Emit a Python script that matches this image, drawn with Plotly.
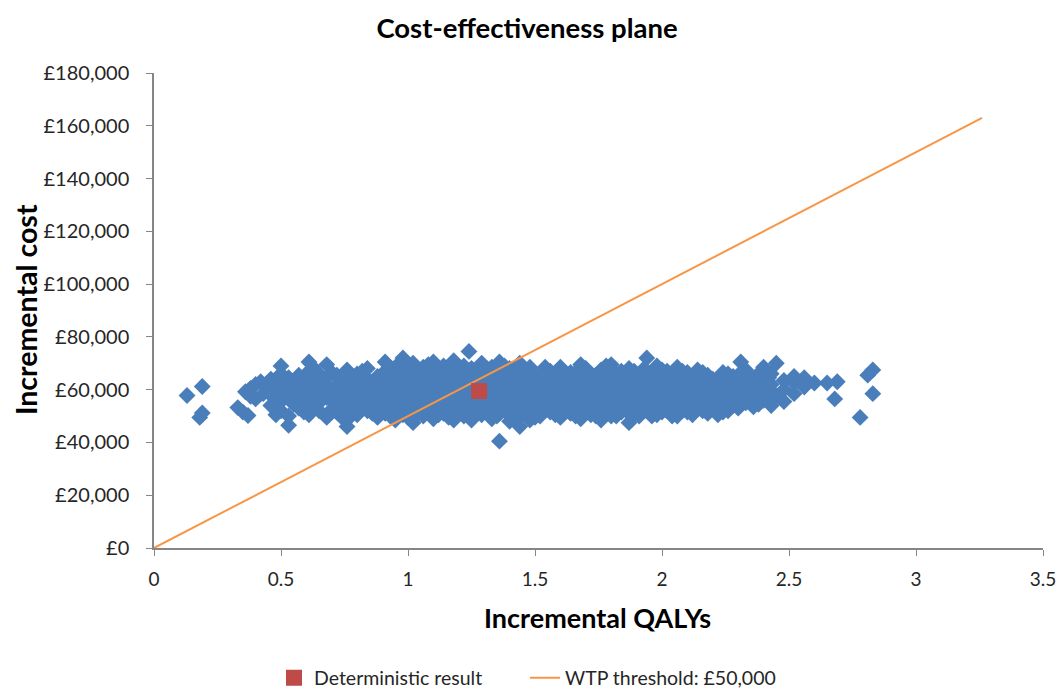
import plotly.graph_objects as go

# Simulated (PSA) results: incremental QALYs and incremental cost (GBP)
sim_qaly = [
    0.13, 0.19, 0.18, 0.19, 0.33, 0.35, 0.37, 0.36, 0.38, 0.40,
    0.42, 0.44, 0.40, 0.43, 0.38, 0.46, 0.46, 0.46, 0.46, 0.50,
    0.50, 0.50, 0.50, 0.50, 0.50, 0.53, 0.53, 0.53, 0.53, 0.53,
    0.57, 0.57, 0.57, 0.57, 0.57, 0.61, 0.61, 0.61, 0.61, 0.61,
    0.61, 0.65, 0.65, 0.65, 0.65, 0.65, 0.68, 0.68, 0.68, 0.68,
    0.68, 0.72, 0.72, 0.72, 0.72, 0.72, 0.76, 0.76, 0.76, 0.76,
    0.76, 0.76, 0.76, 0.80, 0.80, 0.80, 0.80, 0.80, 0.84, 0.84,
    0.84, 0.84, 0.84, 0.88, 0.88, 0.88, 0.88, 0.88, 0.91, 0.91,
    0.91, 0.91, 0.91, 0.91, 0.95, 0.95, 0.95, 0.95, 0.95, 0.95,
    0.98, 0.98, 0.98, 0.98, 0.98, 0.98, 1.02, 1.02, 1.02, 1.02,
    1.02, 1.02, 1.02, 1.06, 1.06, 1.06, 1.06, 1.06, 1.06, 1.10,
    1.10, 1.10, 1.10, 1.10, 1.10, 1.10, 1.14, 1.14, 1.14, 1.14,
    1.14, 1.14, 1.18, 1.18, 1.18, 1.18, 1.18, 1.18, 1.18, 1.22,
    1.22, 1.22, 1.22, 1.22, 1.22, 1.25, 1.25, 1.25, 1.25, 1.25,
    1.25, 1.24, 1.29, 1.29, 1.29, 1.29, 1.29, 1.29, 1.33, 1.33,
    1.33, 1.33, 1.33, 1.33, 1.36, 1.36, 1.36, 1.36, 1.36, 1.36,
    1.36, 1.40, 1.40, 1.40, 1.40, 1.40, 1.40, 1.44, 1.44, 1.44,
    1.44, 1.44, 1.44, 1.44, 1.48, 1.48, 1.48, 1.48, 1.48, 1.48,
    1.52, 1.52, 1.52, 1.52, 1.52, 1.56, 1.56, 1.56, 1.56, 1.56,
    1.60, 1.60, 1.60, 1.60, 1.60, 1.60, 1.64, 1.64, 1.64, 1.64,
    1.64, 1.68, 1.68, 1.68, 1.68, 1.68, 1.68, 1.72, 1.72, 1.72,
    1.72, 1.72, 1.76, 1.76, 1.76, 1.76, 1.76, 1.76, 1.80, 1.80,
    1.80, 1.80, 1.80, 1.80, 1.84, 1.84, 1.84, 1.84, 1.84, 1.87,
    1.87, 1.87, 1.87, 1.87, 1.87, 1.91, 1.91, 1.91, 1.91, 1.91,
    1.94, 1.94, 1.94, 1.94, 1.94, 1.98, 1.98, 1.98, 1.98, 1.98,
    1.98, 2.02, 2.02, 2.02, 2.02, 2.02, 2.06, 2.06, 2.06, 2.06,
    2.06, 2.06, 2.10, 2.10, 2.10, 2.10, 2.10, 2.14, 2.14, 2.14,
    2.14, 2.14, 2.18, 2.18, 2.18, 2.18, 2.18, 2.22, 2.22, 2.22,
    2.22, 2.22, 2.26, 2.26, 2.26, 2.26, 2.26, 2.30, 2.30, 2.30,
    2.30, 2.31, 2.33, 2.33, 2.33, 2.33, 2.36, 2.36, 2.36, 2.36,
    2.40, 2.40, 2.40, 2.40, 2.43, 2.43, 2.43, 2.43, 2.45, 2.45,
    2.48, 2.48, 2.48, 2.52, 2.52, 2.52, 2.56, 2.56, 2.60, 2.65,
    2.68, 2.69, 2.78, 2.81, 2.83, 2.83,
    # in-between columns
    0.48, 0.48, 0.48,
    0.55, 0.55, 0.55,
    0.59, 0.59, 0.59, 0.59,
    0.63, 0.63, 0.63, 0.63,
    0.70, 0.70, 0.70, 0.70,
    0.74, 0.74, 0.74, 0.74,
    0.78, 0.78, 0.78, 0.78,
    0.82, 0.82, 0.82, 0.82,
    0.86, 0.86, 0.86, 0.86,
    0.93, 0.93, 0.93, 0.93,
    0.97, 0.97, 0.97, 0.97, 0.97,
    1.00, 1.00, 1.00, 1.00, 1.00, 1.00,
    1.04, 1.04, 1.04, 1.04, 1.04,
    1.08, 1.08, 1.08, 1.08, 1.08,
    1.12, 1.12, 1.12, 1.12, 1.12,
    1.16, 1.16, 1.16, 1.16, 1.16, 1.16,
    1.20, 1.20, 1.20, 1.20, 1.20,
    1.27, 1.27, 1.27, 1.27, 1.27,
    1.31, 1.31, 1.31, 1.31, 1.31,
    1.35, 1.35, 1.35, 1.35, 1.35,
    1.38, 1.38, 1.38, 1.38, 1.38,
    1.42, 1.42, 1.42, 1.42, 1.42,
    1.46, 1.46, 1.46, 1.46, 1.46,
    1.50, 1.50, 1.50, 1.50, 1.50,
    1.54, 1.54, 1.54, 1.54, 1.54,
    1.58, 1.58, 1.58, 1.58, 1.58,
    1.62, 1.62, 1.62, 1.62,
    1.66, 1.66, 1.66, 1.66, 1.66,
    1.70, 1.70, 1.70, 1.70, 1.70,
    1.74, 1.74, 1.74, 1.74, 1.74,
    1.78, 1.78, 1.78, 1.78, 1.78,
    1.82, 1.82, 1.82, 1.82, 1.82,
    1.86, 1.86, 1.86, 1.86,
    1.89, 1.89, 1.89, 1.89, 1.89,
    1.93, 1.93, 1.93, 1.93, 1.93,
    1.96, 1.96, 1.96, 1.96, 1.96,
    2.00, 2.00, 2.00, 2.00, 2.00,
    2.04, 2.04, 2.04, 2.04, 2.04,
    2.08, 2.08, 2.08, 2.08, 2.08,
    2.12, 2.12, 2.12, 2.12, 2.12,
    2.16, 2.16, 2.16, 2.16, 2.16,
    2.20, 2.20, 2.20, 2.20,
    2.24, 2.24, 2.24, 2.24, 2.24,
    2.28, 2.28, 2.28, 2.28,
    2.35, 2.35, 2.35,
    2.38, 2.38, 2.38, 2.38,
    2.42, 2.42, 2.42,
]
sim_cost = [
    57800, 61200, 49500, 51200, 53200, 51500, 50200, 59200, 60500, 62000,
    63000, 61000, 56500, 58500, 57500, 54000, 58000, 61500, 64000, 52000,
    55500, 59000, 62500, 66000, 69000, 46500, 50000, 57000, 60500, 64500,
    53000, 56000, 59500, 62000, 65500, 50500, 54500, 58000, 61500, 67000,
    70500, 52000, 55000, 60000, 63500, 66000, 49500, 57000, 61000, 64500,
    69500, 51500, 54000, 58500, 62000, 65500, 46000, 48500, 53000, 56500,
    60000, 63000, 67500, 50500, 55000, 59000, 62500, 66000, 52000, 57000,
    60500, 64000, 68000, 49500, 54000, 58000, 61500, 65000, 51000, 56000,
    59500, 63000, 67000, 70500, 48500, 53000, 57500, 61000, 64500, 68500,
    50500, 55000, 59000, 62500, 66000, 72000, 47500, 52000, 56500, 60000,
    63500, 67500, 70000, 50000, 54000, 58000, 61500, 65000, 68500, 49000,
    53000, 57000, 60500, 64000, 67000, 70500, 51000, 55000, 59000, 62500,
    66000, 69000, 48500, 52500, 56500, 60000, 63500, 67500, 71000, 50000,
    54500, 58500, 62000, 65500, 69000, 48500, 53000, 57000, 61000, 64500,
    68000, 74500, 50500, 55000, 59000, 63000, 66500, 70000, 49000, 53500,
    57500, 61500, 65000, 68500, 40500, 51000, 55500, 59500, 63000, 67000,
    70500, 48000, 52500, 56500, 60500, 64500, 68000, 46000, 50000, 54500,
    58500, 62000, 66000, 70000, 48500, 52500, 57000, 61000, 64500, 68500,
    50000, 54000, 58500, 62500, 66000, 51500, 56000, 60000, 63500, 67000,
    49500, 53500, 57500, 61500, 65500, 68500, 51000, 55000, 59000, 63000,
    66500, 49000, 53000, 57000, 61000, 64500, 69500, 50500, 54500, 58500,
    62500, 66000, 48500, 52500, 56500, 60500, 64000, 67500, 50000, 54000,
    58000, 62000, 65500, 69500, 51500, 55500, 59500, 63500, 67000, 47500,
    53000, 57000, 61000, 64500, 68000, 50000, 54500, 58500, 62500, 66000,
    52000, 56000, 60000, 64000, 72000, 50500, 54000, 58000, 62000, 65500,
    69000, 52000, 56000, 60000, 63500, 67000, 50000, 54000, 58000, 61500,
    65000, 68500, 51500, 55500, 59500, 63000, 66500, 53000, 57000, 61000,
    64500, 67500, 51000, 55000, 59000, 62500, 65500, 50500, 54000, 58000,
    61500, 64000, 52000, 56500, 60000, 63000, 66000, 53000, 57500, 61000,
    65500, 70500, 55000, 59000, 62500, 67500, 53500, 57000, 60500, 64000,
    56000, 59500, 63000, 68500, 54000, 58000, 62000, 66000, 70000, 57500,
    55500, 60000, 63500, 62500, 65000, 58500, 61000, 64500, 62500, 62500,
    56500, 63000, 49500, 65500, 67500, 58500,
    # in-between columns
    57000, 63000, 50500,
    54500, 58500, 62500,
    51500, 57500, 63500, 60500,
    53500, 58500, 64500, 68000,
    52500, 56000, 60000, 66500,
    49500, 55500, 59500, 64000,
    51500, 57500, 61500, 65000,
    53500, 57500, 61000, 67000,
    51000, 55500, 59500, 63000,
    50000, 54500, 59000, 65500,
    52000, 56500, 60000, 63500, 70000,
    49500, 53500, 57500, 61500, 65000, 68500,
    51000, 55000, 59000, 62500, 66500,
    52000, 56000, 60000, 63500, 69500,
    50500, 54500, 58500, 62000, 66000,
    49500, 53500, 57500, 61500, 65000, 68000,
    51000, 55000, 59500, 63500, 66500,
    52000, 56000, 60500, 64000, 67000,
    51500, 55500, 60000, 64000, 68000,
    50000, 54500, 58500, 62000, 66000,
    52000, 56000, 61000, 65000, 69000,
    50500, 54500, 58500, 62500, 66500,
    51500, 55500, 59500, 63500, 67000,
    49500, 53500, 57500, 61500, 65500,
    52500, 56500, 60500, 64500, 68500,
    50500, 54500, 58500, 62500, 66000,
    52000, 56000, 60000, 64000,
    50000, 54000, 58000, 62000, 66500,
    52000, 56000, 60000, 64000, 68000,
    50000, 54000, 58000, 62000, 65500,
    52000, 56000, 60000, 63500, 69000,
    50000, 54000, 58000, 62000, 66000,
    52000, 56000, 60000, 63500,
    50500, 54500, 58500, 62500, 67000,
    52000, 56000, 60000, 64000, 68000,
    50000, 54000, 58000, 62000, 66000,
    51500, 55500, 59500, 63500, 67500,
    50000, 54000, 58000, 62000, 65500,
    52000, 56000, 60000, 64000, 67000,
    50500, 54500, 58500, 62000, 65000,
    52000, 56000, 60000, 63500, 66500,
    53000, 57000, 61000, 64000,
    51500, 55500, 59000, 62500, 66500,
    54000, 58000, 62000, 65000,
    56000, 60000, 63500,
    54500, 58500, 62000, 66000,
    57000, 60500, 64500,
]

# Deterministic base-case result
det_qaly = [1.28]
det_cost = [59500]

# Willingness-to-pay threshold line (£50,000 per QALY)
wtp_qaly = [0, 3.26]
wtp_cost = [0, 163000]

x_ticks = [0, 0.5, 1, 1.5, 2, 2.5, 3, 3.5]
x_tick_labels = ["0", "0.5", "1", "1.5", "2", "2.5", "3", "3.5"]
y_ticks = [0, 20000, 40000, 60000, 80000, 100000, 120000, 140000, 160000, 180000]
y_tick_labels = ["£0", "£20,000", "£40,000", "£60,000", "£80,000", "£100,000",
                 "£120,000", "£140,000", "£160,000", "£180,000"]

FONT = "Lato, 'Open Sans', sans-serif"

fig = go.Figure()
fig.add_trace(go.Scatter(
    x=sim_qaly, y=sim_cost, mode="markers", showlegend=False,
    marker=dict(symbol="diamond", size=13, color="#4a7ebb",
                line=dict(width=0)),
    name="Simulations",
))
fig.add_trace(go.Scatter(
    x=wtp_qaly, y=wtp_cost, mode="lines", name="WTP threshold: £50,000",
    line=dict(color="#f79646", width=2),
))
fig.add_trace(go.Scatter(
    x=det_qaly, y=det_cost, mode="markers", name="Deterministic result",
    marker=dict(symbol="square", size=16, color="#be4b48", line=dict(width=0)),
))

fig.update_layout(
    width=1057, height=688,
    paper_bgcolor="white", plot_bgcolor="white",
    margin=dict(l=154, r=14, t=73, b=140, autoexpand=False),
    font=dict(family=FONT, color="#000000"),
    title=dict(text="<b>Cost-effectiveness plane</b>", x=0.4986, xanchor="center",
               y=1 - 28 / 688, yanchor="middle",
               font=dict(size=27.5, family=FONT, color="#000000")),
    legend=dict(orientation="h", x=(274 - 154) / 889, xanchor="left", y=-0.274,
                yanchor="middle", font=dict(size=19.5, family=FONT, color="#262626"),
                traceorder="reversed", entrywidth=206, entrywidthmode="pixels"),
    annotations=[
        dict(text="<b>Incremental QALYs</b>", xref="paper", yref="paper",
             x=0.499, y=-(617 - 548) / 475, xanchor="center", yanchor="middle",
             showarrow=False, font=dict(size=27, family=FONT, color="#000000")),
        dict(text="<b>Incremental cost</b>", xref="paper", yref="paper",
             x=-(154 - 26) / 889, y=(548 - 310) / 475, xanchor="center",
             yanchor="middle", textangle=-90, showarrow=False,
             font=dict(size=28.5, family=FONT, color="#000000")),
    ],
)
fig.update_xaxes(
    range=[0, 3.5], tickvals=x_ticks, ticktext=x_tick_labels,
    showgrid=False, zeroline=False, showline=True, linecolor="#868686",
    linewidth=1.5, ticks="outside", ticklen=6, tickcolor="#868686",
    ticklabelstandoff=7, automargin=False,
    tickfont=dict(size=19, family=FONT, color="#262626"),
)
fig.update_yaxes(
    range=[0, 180000], tickvals=y_ticks, ticktext=y_tick_labels,
    showgrid=False, zeroline=False, showline=True, linecolor="#868686",
    linewidth=1.5, ticks="outside", ticklen=6, tickcolor="#868686",
    ticklabelstandoff=13, automargin=False,
    tickfont=dict(size=20, family=FONT, color="#262626"),
)

fig.write_html(
    "out.html",
    config={"displayModeBar": False},
    post_script="document.body.style.margin='0';document.body.style.overflow='hidden';",
)
